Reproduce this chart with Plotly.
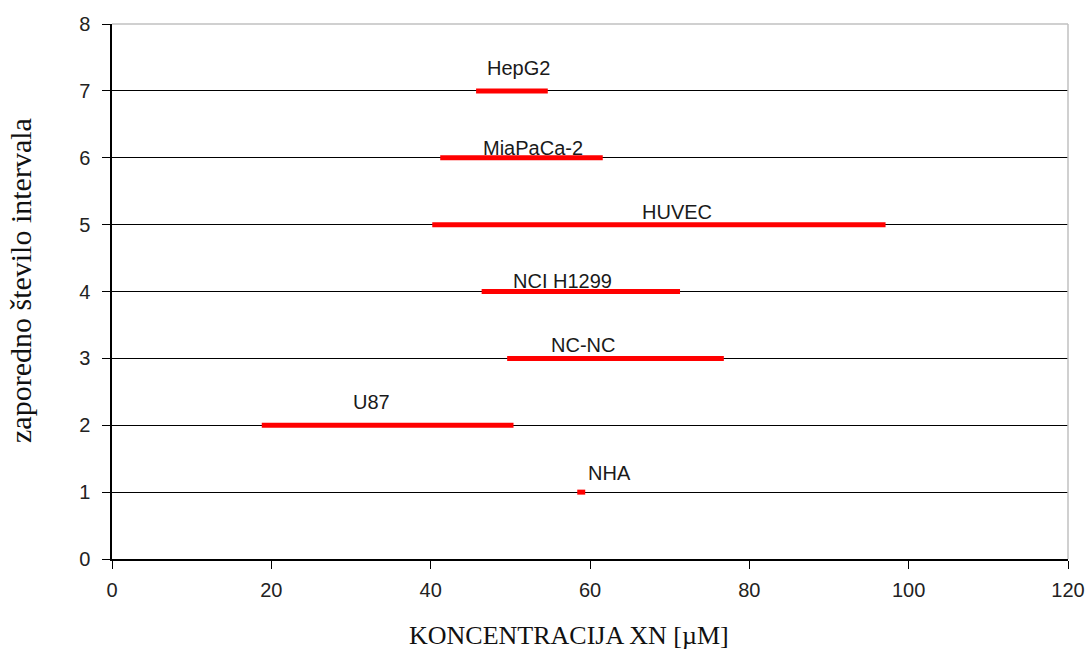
import plotly.graph_objects as go

# ---- data ----
cells = ["NHA", "U87", "NC-NC", "NCI H1299", "HUVEC", "MiaPaCa-2", "HepG2"]
rows = [1, 2, 3, 4, 5, 6, 7]
low = [58.4, 18.8, 49.6, 46.4, 40.2, 41.2, 45.7]
high = [59.4, 50.4, 76.8, 71.3, 97.1, 61.6, 54.7]
label_x = [62.5, 32.6, 59.1, 56.5, 70.9, 52.8, 51.0]
x_ticks = [0, 20, 40, 60, 80, 100, 120]
y_ticks = [0, 1, 2, 3, 4, 5, 6, 7, 8]

# label vertical offsets (px above the line)
label_dy = [19, 23, 13, 11, 13, 10, 23]

fig = go.Figure()
for name, r, lo, hi in zip(cells, rows, low, high):
    fig.add_trace(go.Scatter(x=[lo, hi], y=[r, r], mode="lines",
                             line=dict(color="#ff0000", width=5),
                             name=name, showlegend=False))

for name, r, lx, dy in zip(cells, rows, label_x, label_dy):
    fig.add_annotation(x=lx, y=r, text=name, showarrow=False,
                       xanchor="center", yanchor="middle", yshift=dy,
                       font=dict(family="Liberation Sans, Arial", size=20, color="#1a1a1a"))

# axis titles
fig.add_annotation(xref="paper", yref="paper", x=0.478, y=-0.143,
                   text="KONCENTRACIJA XN [µM]", showarrow=False,
                   xanchor="center", yanchor="middle", borderpad=0,
                   font=dict(family="Liberation Serif, Times New Roman", size=26, color="#111111"))
fig.add_annotation(xref="paper", yref="paper", x=-0.0952, y=0.5215,
                   text="zaporedno število intervala", showarrow=False, textangle=-90,
                   xanchor="center", yanchor="middle",
                   font=dict(family="Liberation Serif, Times New Roman", size=30, color="#111111"))

# plot-area border (top and right, gray)
fig.add_shape(type="line", xref="paper", yref="paper", x0=0, x1=1, y0=1, y1=1,
              line=dict(color="#c0c0c0", width=1.5))
fig.add_shape(type="line", xref="paper", yref="paper", x0=1, x1=1, y0=0, y1=1,
              line=dict(color="#c0c0c0", width=1.5))

tick_font = dict(family="Liberation Sans, Arial", size=20, color="#222222")

fig.update_layout(
    width=1091, height=653,
    margin=dict(l=112, r=23, t=24, b=94),
    plot_bgcolor="white", paper_bgcolor="white",
    xaxis=dict(range=[0, 120], tickvals=x_ticks, ticktext=[str(v) for v in x_ticks],
               showgrid=False, zeroline=False, showline=True, linecolor="#000000",
               linewidth=1.5, ticks="outside", ticklen=8, tickcolor="#000000",
               tickfont=tick_font, automargin=False, ticklabelstandoff=4),
    yaxis=dict(range=[0, 8], tickvals=y_ticks, ticktext=[str(v) for v in y_ticks],
               showgrid=True, gridcolor="#000000", gridwidth=1,
               zeroline=False, showline=True, linecolor="#000000",
               linewidth=1.5, ticks="outside", ticklen=8, tickcolor="#000000",
               tickfont=tick_font, automargin=False, ticklabelstandoff=8),
)

fig.write_html("out.html")
